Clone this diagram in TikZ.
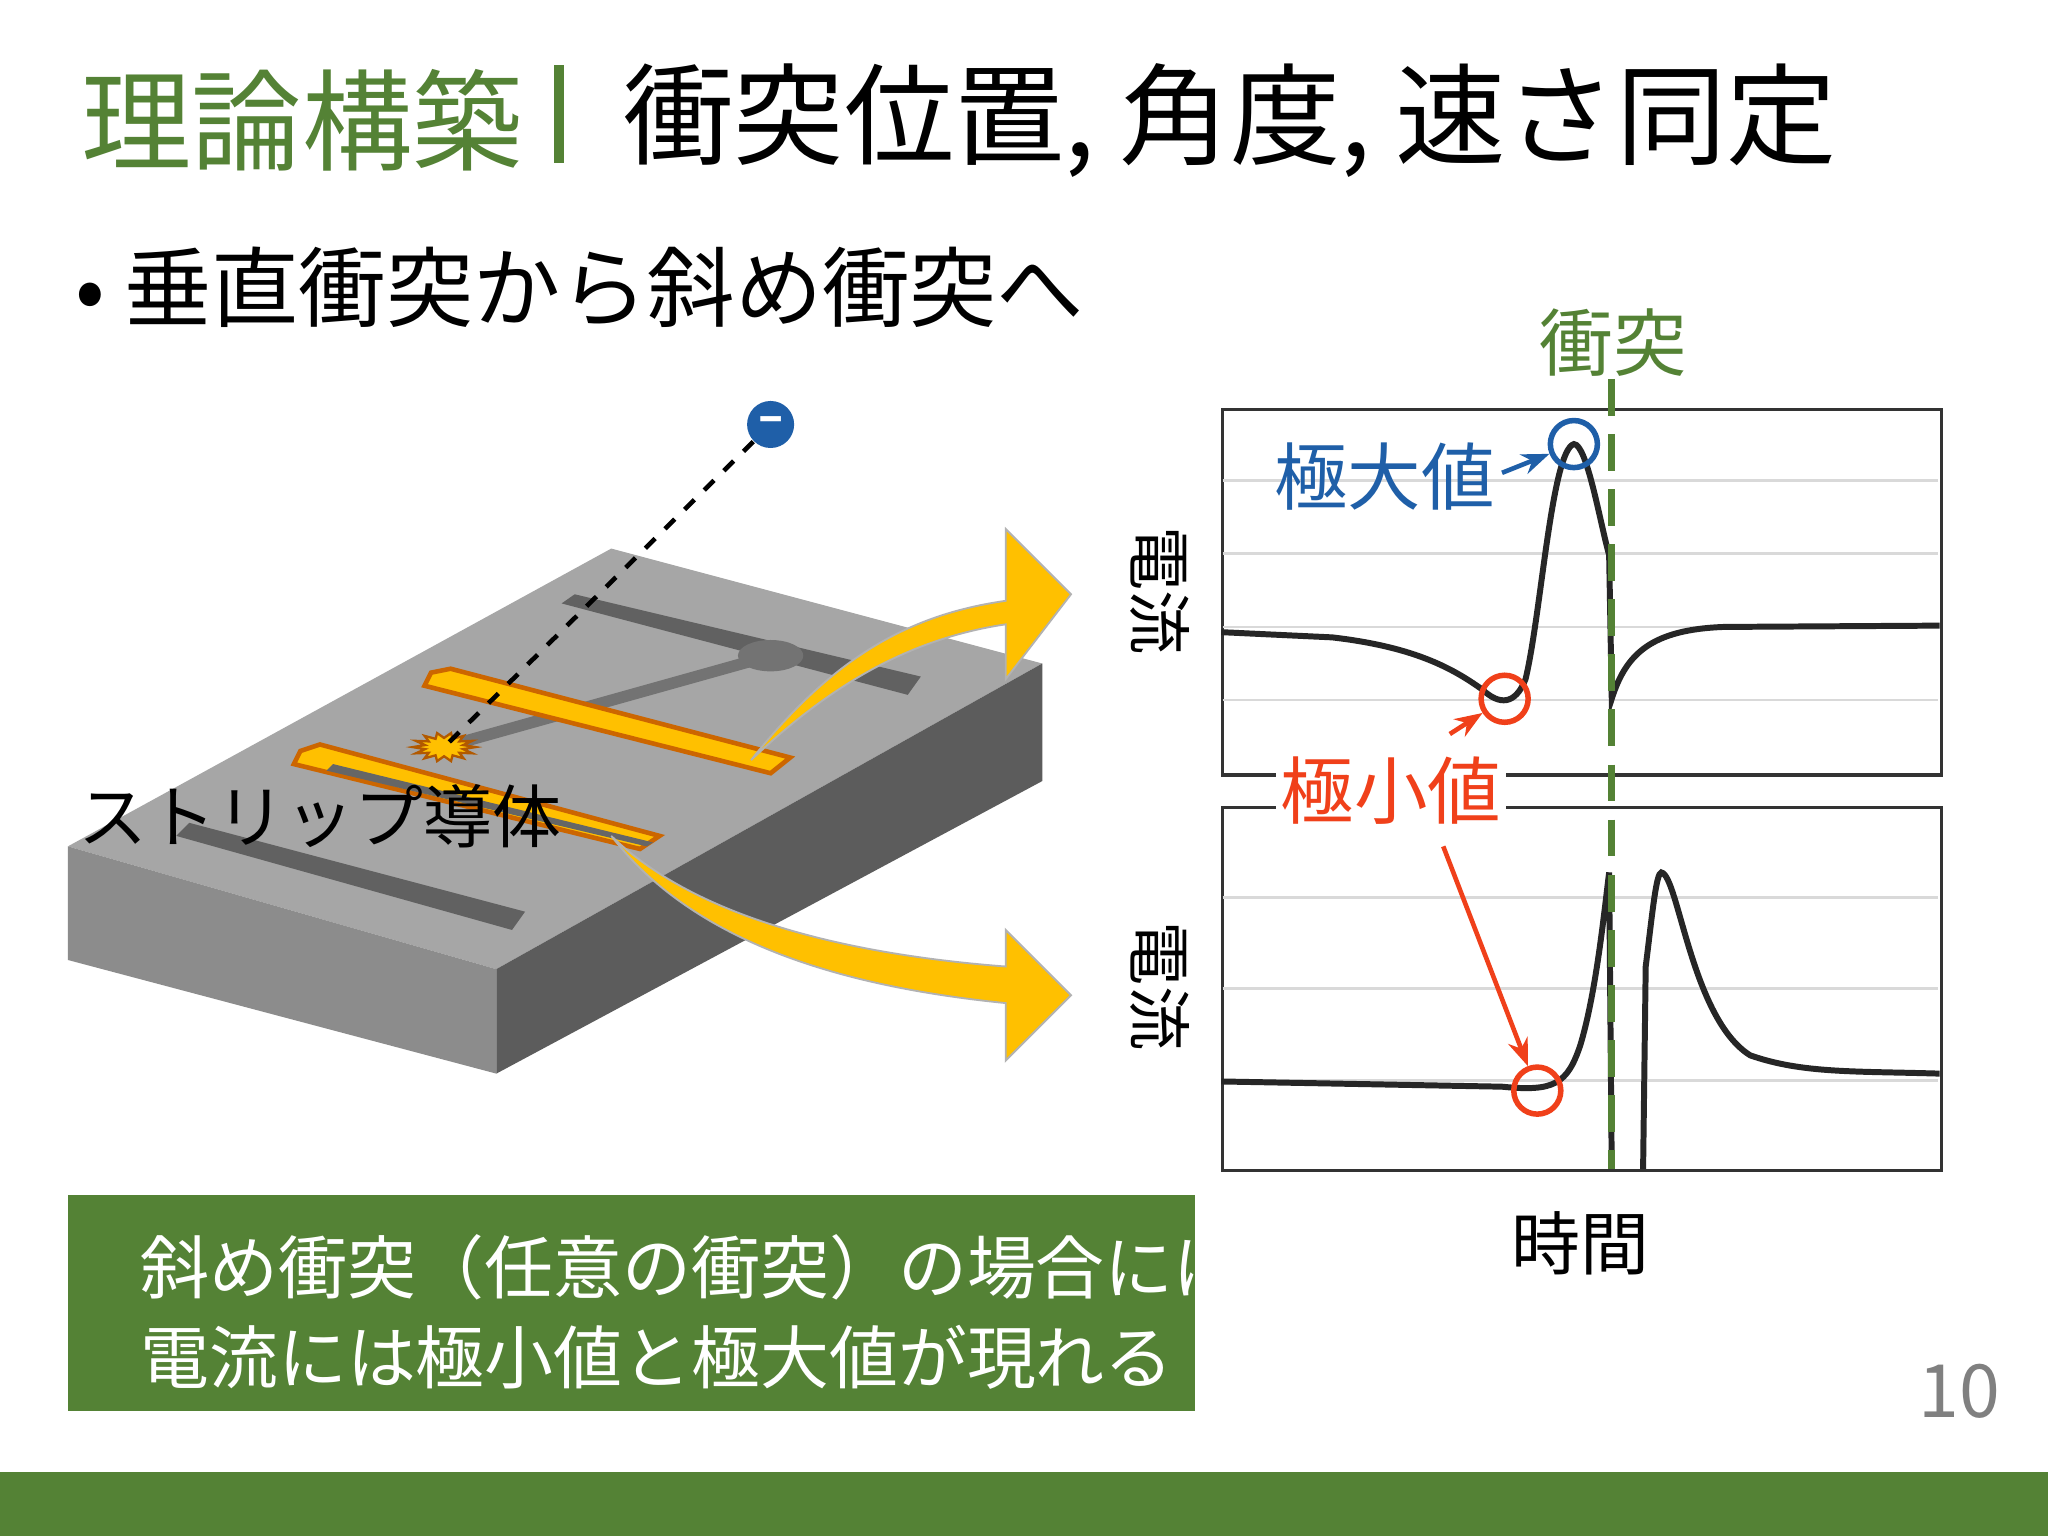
\documentclass[tikz,border=0pt]{standalone}
\usepackage{fontspec}
\setmainfont{Noto Sans CJK JP}
\usetikzlibrary{arrows.meta}
\definecolor{gr}{HTML}{548235}
\definecolor{bl}{HTML}{1F5FA8}
\definecolor{rd}{HTML}{F0401A}
\definecolor{yl}{HTML}{FFC000}
\begin{document}
\begin{tikzpicture}[x=0.01cm,y=-0.01cm,
 curve/.style={line width=1.3pt,black!85},
 grid/.style={gray!30,line width=0.6pt},
 yarrow/.style={fill=yl,draw=gray!60,line width=0.4pt}]
\useasboundingbox (0,0) rectangle (1568,1176);
\fill[white] (0,0) rectangle (1568,1176);
% title
\node[anchor=west,text=gr,font=\fontsize{24}{26}\selectfont] (t1) at (50,92) {理論構築};
\draw[gr,line width=2pt] (428,50) -- (428,125);
\node[anchor=west,font=\fontsize{24}{26}\selectfont] (t2) at (465,92) {衝突位置, 角度, 速さ同定};
\node[anchor=west,font=\fontsize{19}{21}\selectfont] (b1) at (45,220) {• 垂直衝突から斜め衝突へ};
% slab
\fill[black!35] (52,648) -- (468,420) -- (798,508) -- (380,742) -- cycle;
\fill[black!45] (52,648) -- (380,742) -- (380,822) -- (52,735) -- cycle;
\fill[black!64] (380,742) -- (798,508) -- (798,598) -- (380,822) -- cycle;
% dark strips
\fill[black!62] (430,462) -- (440,455) -- (705,518) -- (695,532) -- cycle;
\fill[black!62] (135,640) -- (145,630) -- (402,698) -- (392,712) -- cycle;
\fill[black!55] (590,502) ellipse (25 and 12);
\draw[black!55,line width=2.5pt] (340,572) -- (590,502);
% yellow strips
\draw[fill=yl,draw=orange!80!black,line width=1pt] (330,515) -- (345,512) -- (605,580) -- (590,592) -- (325,525) -- cycle;
\draw[fill=yl,draw=orange!80!black,line width=1pt] (230,575) -- (245,570) -- (505,640) -- (490,650) -- (225,585) -- cycle;
\fill[black!60] (255,585) -- (500,645) -- (495,648) -- (250,590) -- cycle;
% electron path
\node[circle,fill=bl,minimum size=0.36cm,inner sep=0pt,text=white,font=\bfseries] (e) at (590,325) {–};
\coordinate (s) at (340,572);
\begin{scope}[shift={(340,572)}]
\draw[fill=yl,draw=orange!70!black,line width=0.5pt] (0:24 and 11) \foreach \i in {0,...,13} { -- (\i*25.714:24 and 11) -- (\i*25.714+12.857:15 and 7) } -- cycle;
\end{scope}
\draw[dashed,line width=1pt] (e) -- (s);
\node[font=\fontsize{15}{17}\selectfont] (sl) at (245,625) {ストリップ導体};
% yellow arrows
\draw[yarrow] (575,582) .. controls (640,500) and (700,470) .. (770,460) -- (770,405) -- (820,455) -- (770,520) -- (770,478) .. controls (690,490) and (630,530) .. (575,582) -- cycle;
\draw[yarrow] (468,640) .. controls (530,700) and (640,730) .. (770,740) -- (770,712) -- (820,762) -- (770,812) -- (770,768) .. controls (640,755) and (530,720) .. (468,640) -- cycle;
% plots
\node[draw=black!80,line width=0.7pt,minimum width=5.5cm,minimum height=2.8cm,inner sep=0pt,anchor=north west] (p1) at (935,312) {};
\node[draw=black!80,line width=0.7pt,minimum width=5.5cm,minimum height=2.78cm,inner sep=0pt,anchor=north west] (p2) at (935,617) {};
\foreach \y in {368,424,480,536} \draw[grid] (936,\y) -- (1484,\y);
\foreach \y in {687,757,827} \draw[grid] (936,\y) -- (1484,\y);
\draw[curve] (935,484) -- (1020,488) .. controls (1080,495) and (1110,510) .. (1135,528) .. controls (1148,540) and (1160,540) .. (1168,520) .. controls (1180,470) and (1188,345) .. (1205,340) .. controls (1215,340) and (1225,400) .. (1232,425) -- (1234,535) .. controls (1245,500) and (1265,482) .. (1320,480) -- (1485,479);
\draw[curve] (935,828) -- (1150,832) .. controls (1190,836) and (1200,830) .. (1210,800) .. controls (1222,760) and (1228,700) .. (1232,668) -- (1234,895);
\draw[curve] (1258,895) -- (1260,740) .. controls (1265,700) and (1268,668) .. (1272,668) .. controls (1285,670) and (1295,780) .. (1340,808) .. controls (1380,822) and (1420,820) .. (1485,822);
\node[rotate=-90,font=\fontsize{14}{16}\selectfont] (y1) at (888,452) {電流};
\node[rotate=-90,font=\fontsize{14}{16}\selectfont] (y2) at (888,755) {電流};
\node[font=\fontsize{15}{17}\selectfont] (tx) at (1210,952) {時間};
% collision line
\draw[gr,line width=1.5pt,dash pattern=on 8pt off 4pt] (1234,290) -- (1234,895);
\node[text=gr,font=\fontsize{16}{18}\selectfont] (cl) at (1235,262) {衝突};
% max / min
\node[circle,draw=bl,line width=1.2pt,minimum size=0.36cm,inner sep=0pt] (cmax) at (1205,340) {};
\node[text=bl,font=\fontsize{16}{18}\selectfont] (lmax) at (1060,365) {極大値};
\draw[bl,line width=1pt,-{Stealth[length=6pt]}] (1150,362) -- (cmax);
\node[circle,draw=rd,line width=1.2pt,minimum size=0.36cm,inner sep=0pt] (cmin1) at (1152,535) {};
\node[circle,draw=rd,line width=1.2pt,minimum size=0.36cm,inner sep=0pt] (cmin2) at (1177,835) {};
\node[text=rd,fill=white,inner sep=1pt,font=\fontsize{16}{18}\selectfont] (lmin) at (1065,605) {極小値};
\draw[rd,line width=1pt,-{Stealth[length=6pt]}] (1110,562) -- (cmin1);
\draw[rd,line width=1pt,-{Stealth[length=6pt]}] (1105,648) -- (cmin2);
% conclusion box
\fill[gr] (52,915) rectangle (915,1080);
\begin{scope}
\clip (52,915) rectangle (915,1080);
\node[anchor=north west,text=white,align=left,font=\fontsize{15}{19.5}\selectfont] (cb) at (95,933) {斜め衝突（任意の衝突）の場合には\\電流には極小値と極大値が現れる};
\end{scope}
\node[text=gray,font=\fontsize{16}{18}\selectfont] (pg) at (1500,1065) {10};
\fill[gr] (0,1127) rectangle (1568,1176);
\end{tikzpicture}
\end{document}
